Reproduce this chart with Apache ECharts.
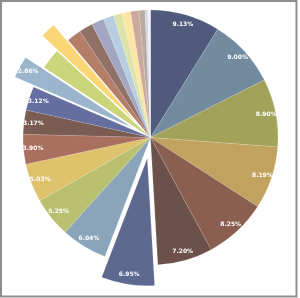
<!DOCTYPE html>
<html>
<head>
<meta charset="utf-8">
<script src="https://cdn.jsdelivr.net/npm/echarts@6/dist/echarts.min.js"></script>
<style>
  html, body { margin: 0; padding: 0; background: #fff; }
  #chart { width: 300px; height: 298px; }
</style>
</head>
<body>
<div id="chart"></div>
<script>
// slice values, clockwise from 12 o'clock (labels shown as value%)
const sliceValues = [9.13, 9.00, 8.90, 8.19, 8.25, 7.20, 6.95, 6.04, 5.25, 5.03, 3.90, 3.17, 3.12, 2.86,
  2.70, 2.00, 1.90, 1.80, 1.64, 1.38, 1.12, 1.12, 1.09, 0.78, 0.34, 0.37];
// slices pulled out of the pie
const explodedSlices = [6, 13, 15];
const labelMin = 2.8;

const colors = ["#4f5a7c", "#738b9e", "#a3a25a", "#c1a35f", "#8b5f50", "#6b5149", "#5e6990",
  "#8aa5ba", "#b9c06f", "#dfc26c", "#a9705f", "#7b5c52", "#646fa0", "#9ab5cc", "#cbd57a",
  "#fbd676", "#b47e68", "#8f7166", "#a3a6c3", "#b8cde0", "#dce4a9", "#fde5a5", "#cba99d",
  "#b8aaa3", "#cfd8e6", "#eef0f5"];

const myEcharts = echarts.init(document.getElementById("chart"));

const pieData = sliceValues.map((v, i) => ({
  name: "s" + (i + 1),
  value: v,
  selected: explodedSlices.includes(i),
  itemStyle: { color: colors[i] },
}));
const labelData = sliceValues.map((v, i) => ({
  name: "s" + (i + 1),
  value: v,
  selected: explodedSlices.includes(i),
  label: { show: v > labelMin },
}));

const option = {
  animation: false,
  graphic: [
    {
      type: "rect",
      shape: { x: 1, y: 1, width: 295.5, height: 295.5 },
      style: { fill: "none", stroke: "#8e8e8e", lineWidth: 2 },
      silent: true,
    },
  ],
  series: [
    {
      type: "pie",
      center: [150.5, 137.5],
      radius: [0, 127.5],
      startAngle: 90,
      clockwise: true,
      selectedMode: "multiple",
      selectedOffset: 21,
      avoidLabelOverlap: false,
      label: { show: false },
      labelLine: { show: false },
      emphasis: { disabled: true },
      itemStyle: { borderColor: "rgba(255,255,255,0.25)", borderWidth: 0.5 },
      data: pieData,
    },
    {
      // overlay only used to place labels near the outer edge
      type: "pie",
      center: [150.5, 137.5],
      radius: [102, 128],
      startAngle: 90,
      clockwise: true,
      selectedMode: "multiple",
      selectedOffset: 21,
      silent: true,
      avoidLabelOverlap: false,
      itemStyle: { color: "transparent" },
      emphasis: { disabled: true },
      labelLine: { show: false },
      label: {
        position: "inside",
        color: "#fff",
        fontFamily: "DejaVu Sans",
        fontWeight: "bold",
        fontSize: 6,
        formatter: (p) => p.value.toFixed(2) + "%",
      },
      data: labelData,
    },
  ],
};
myEcharts.setOption(option);
</script>
</body>
</html>
